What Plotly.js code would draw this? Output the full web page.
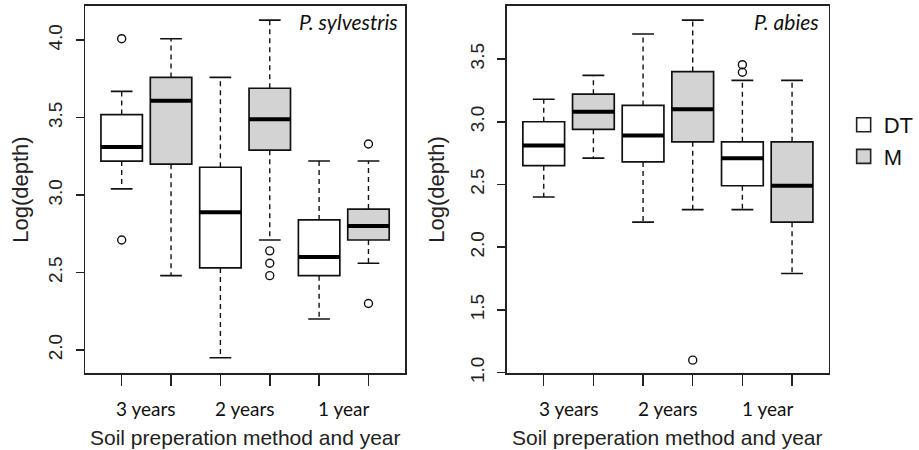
<!DOCTYPE html>
<html><head><meta charset="utf-8">
<script src="https://cdn.plot.ly/plotly-3.0.1.min.js"></script>
<style>body{margin:0;background:#fff}</style>
</head><body><div id="chart" style="width:919px;height:450px"></div>
<script>
// ---- data ----
const groupLabels = ["3 years", "2 years", "1 year"];
const seriesNames = ["DT", "M"];
const panelTitles = ["P. sylvestris", "P. abies"];
const dtPos = [1, 3, 5];
const mPos = [2, 4, 6];

// P. sylvestris, DT
const sylDT_low = [3.04, 1.95, 2.20];
const sylDT_q1  = [3.22, 2.53, 2.48];
const sylDT_med = [3.31, 2.89, 2.60];
const sylDT_q3  = [3.52, 3.18, 2.84];
const sylDT_up  = [3.67, 3.76, 3.22];
const sylDT_outPos = [1, 1];
const sylDT_outVal = [4.01, 2.71];
// P. sylvestris, M
const sylM_low = [2.48, 2.71, 2.56];
const sylM_q1  = [3.20, 3.29, 2.71];
const sylM_med = [3.61, 3.49, 2.80];
const sylM_q3  = [3.76, 3.69, 2.91];
const sylM_up  = [4.01, 4.13, 3.22];
const sylM_outPos = [4, 4, 4, 6, 6];
const sylM_outVal = [2.64, 2.56, 2.48, 3.33, 2.30];

// P. abies, DT
const abDT_low = [2.40, 2.20, 2.30];
const abDT_q1  = [2.65, 2.68, 2.49];
const abDT_med = [2.81, 2.89, 2.71];
const abDT_q3  = [3.00, 3.13, 2.84];
const abDT_up  = [3.18, 3.70, 3.33];
const abDT_outPos = [5, 5];
const abDT_outVal = [3.455, 3.395];
// P. abies, M
const abM_low = [2.71, 2.30, 1.79];
const abM_q1  = [2.94, 2.84, 2.20];
const abM_med = [3.08, 3.10, 2.49];
const abM_q3  = [3.22, 3.40, 2.84];
const abM_up  = [3.37, 3.81, 3.33];
const abM_outPos = [4];
const abM_outVal = [1.10];

// ---- drawing ----
const BOXW = 0.84, CAPW = 0.44;
const colors = {DT: "#ffffff", M: "#d3d3d3"};
const traces = [];

function addSeries(xa, ya, pos, low, q1, med, q3, up, outPos, outVal, name) {
  traces.push({
    type: "box", xaxis: xa, yaxis: ya, x: pos,
    q1: q1, median: med, q3: q3, lowerfence: q1, upperfence: q3,
    width: BOXW, boxpoints: false, fillcolor: colors[name],
    line: {color: "#111", width: 1.7}, whiskerwidth: 0,
    showlegend: false, hoverinfo: "skip"
  });
  const wx = [], wy = [];
  pos.forEach((p, i) => {
    wx.push(p, p, null, p, p, null);
    wy.push(q3[i], up[i], null, q1[i], low[i], null);
  });
  traces.push({type: "scatter", mode: "lines", xaxis: xa, yaxis: ya, x: wx, y: wy,
    line: {color: "#111", width: 1.4, dash: "5px,4px"}, showlegend: false, hoverinfo: "skip"});
  const cx = [], cy = [];
  pos.forEach((p, i) => {
    cx.push(p - CAPW / 2, p + CAPW / 2, null, p - CAPW / 2, p + CAPW / 2, null);
    cy.push(up[i], up[i], null, low[i], low[i], null);
  });
  traces.push({type: "scatter", mode: "lines", xaxis: xa, yaxis: ya, x: cx, y: cy,
    line: {color: "#111", width: 1.6}, showlegend: false, hoverinfo: "skip"});
  const mx = [], my = [];
  pos.forEach((p, i) => {
    mx.push(p - BOXW / 2, p + BOXW / 2, null);
    my.push(med[i], med[i], null);
  });
  traces.push({type: "scatter", mode: "lines", xaxis: xa, yaxis: ya, x: mx, y: my,
    line: {color: "#000", width: 4}, showlegend: false, hoverinfo: "skip"});
  traces.push({type: "scatter", mode: "markers", xaxis: xa, yaxis: ya, x: outPos, y: outVal,
    marker: {symbol: "circle-open", size: 8, color: "#111", line: {width: 1.4, color: "#111"}},
    showlegend: false, hoverinfo: "skip"});
}

addSeries("x", "y", dtPos, sylDT_low, sylDT_q1, sylDT_med, sylDT_q3, sylDT_up, sylDT_outPos, sylDT_outVal, "DT");
addSeries("x", "y", mPos, sylM_low, sylM_q1, sylM_med, sylM_q3, sylM_up, sylM_outPos, sylM_outVal, "M");
addSeries("x2", "y2", dtPos, abDT_low, abDT_q1, abDT_med, abDT_q3, abDT_up, abDT_outPos, abDT_outVal, "DT");
addSeries("x2", "y2", mPos, abM_low, abM_q1, abM_med, abM_q3, abM_up, abM_outPos, abM_outVal, "M");

seriesNames.forEach(n => {
  traces.push({type: "scatter", mode: "markers", x: [null], y: [null], name: n,
    marker: {symbol: "square", size: 14, color: colors[n], line: {color: "#222", width: 1.6}},
    showlegend: true, hoverinfo: "skip"});
});

const tickPos = [1, 2, 3, 4, 5, 6];
const groupCenters = [1.5, 3.5, 5.5];
const axFont = {family: "Liberation Sans, Arial, sans-serif", size: 19, color: "#222"};

function xAxis(domain) {
  return {domain: domain, range: [0.26, 6.74], tickvals: tickPos, ticktext: tickPos.map(() => ""),
    ticks: "outside", ticklen: 11, tickwidth: 1.5, tickcolor: "#222",
    showline: true, mirror: true, linecolor: "#222", linewidth: 1.6,
    showgrid: false, zeroline: false, fixedrange: true};
}
function yAxis(range, tv) {
  return {domain: [0.171, 0.987], range: range, tickvals: tv, ticktext: tv.map(v => v.toFixed(1)),
    tickangle: -90, ticks: "outside", ticklen: 8, tickwidth: 1.5, tickcolor: "#222",
    tickfont: axFont, ticklabelstandoff: 6,
    showline: true, mirror: true, linecolor: "#222", linewidth: 1.6,
    showgrid: false, zeroline: false, fixedrange: true};
}

const annotations = [];
["x", "x2"].forEach((xr, k) => {
  groupLabels.forEach((g, i) => {
    annotations.push({xref: xr, yref: "paper", x: groupCenters[i], y: 1 - 408 / 450, text: g,
      showarrow: false, xanchor: "center", yanchor: "middle",
      font: {family: "Lato, Open Sans, sans-serif", size: 19, color: "#111"}});
  });
});
const xTitleCenters = [(86 + 409) / 2 / 919, (512 + 837) / 2 / 919];
xTitleCenters.forEach(c => {
  annotations.push({xref: "paper", yref: "paper", x: c, y: 1 - 437 / 450,
    text: "Soil preperation method and year", showarrow: false, xanchor: "center", yanchor: "middle",
    font: {family: "Liberation Sans, Arial, sans-serif", size: 21, color: "#222"}});
});
[20 / 919, 440 / 919].forEach(c => {
  annotations.push({xref: "paper", yref: "paper", x: c, y: 1 - 190 / 450,
    text: "Log(depth)", textangle: -90, showarrow: false, xanchor: "center", yanchor: "middle",
    font: {family: "Liberation Sans, Arial, sans-serif", size: 22, color: "#222"}});
});
annotations.push({xref: "paper", yref: "paper", x: 404 / 919, y: 1 - 22 / 450, text: "<i>" + panelTitles[0] + "</i>",
  showarrow: false, xanchor: "right", yanchor: "middle", font: {family: "Lato, sans-serif", size: 21, color: "#111"}});
annotations.push({xref: "paper", yref: "paper", x: 829 / 919, y: 1 - 22 / 450, text: "<i>" + panelTitles[1] + "</i>",
  showarrow: false, xanchor: "right", yanchor: "middle", font: {family: "Lato, sans-serif", size: 21, color: "#111"}});

const layout = {
  width: 919, height: 450, margin: {l: 0, r: 0, t: 0, b: 0},
  paper_bgcolor: "#fff", plot_bgcolor: "#fff",
  boxmode: "overlay",
  xaxis: xAxis([86 / 919, 409 / 919]),
  yaxis: yAxis([1.851, 4.222], [2.0, 2.5, 3.0, 3.5, 4.0]),
  xaxis2: xAxis([512 / 919, 837 / 919]),
  yaxis2: yAxis([0.997, 3.924], [1.0, 1.5, 2.0, 2.5, 3.0, 3.5]),
  showlegend: true,
  legend: {x: 852 / 919, y: 1 - 104 / 450, xanchor: "left", yanchor: "top",
    font: {family: "Liberation Sans, Arial, sans-serif", size: 22, color: "#111"},
    bgcolor: "rgba(0,0,0,0)", itemwidth: 30, tracegroupgap: 0},
  annotations: annotations
};
layout.yaxis2.anchor = "x2";
layout.xaxis2.anchor = "y2";

Plotly.newPlot("chart", traces, layout, {staticPlot: true, displayModeBar: false});
</script>
</body></html>
